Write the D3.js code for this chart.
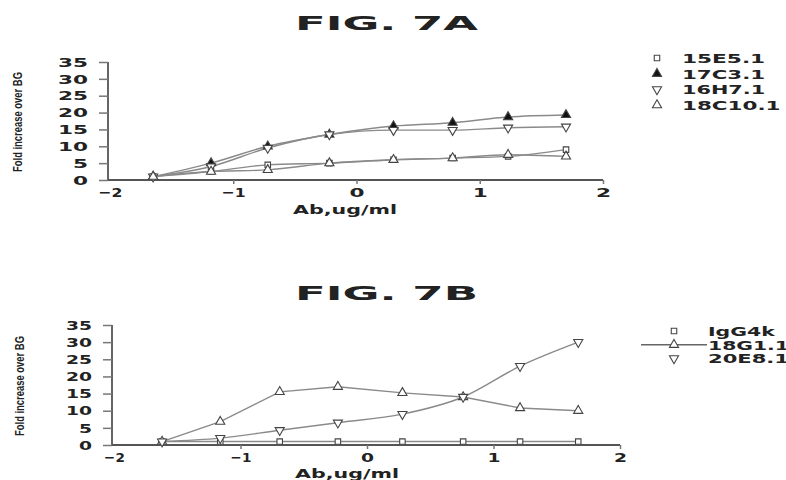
<!DOCTYPE html>
<html>
<head>
<meta charset="utf-8">
<script src="https://cdn.jsdelivr.net/npm/d3@7"></script>
<style>
  html, body { margin: 0; padding: 0; background: #fff; }
  svg { display: block; }
  text { font-family: "DejaVu Sans", "Liberation Sans", sans-serif; fill: #222; }
</style>
</head>
<body>
<svg id="chart" width="786" height="480"></svg>
<script>
// log10 antibody concentration (ug/ml) for the dilution series
const doseA = [-1.65, -1.18, -0.72, -0.22, 0.3, 0.78, 1.23, 1.7];
const doseB = [-1.62, -1.16, -0.69, -0.23, 0.28, 0.76, 1.21, 1.67];

// Fig. 7A series: fold increase over background
const s15E5 = [1, 2.5, 4.5, 5, 6, 6.5, 7, 9];
const s17C3 = [1, 5, 10, 13.5, 16, 17, 18.7, 19.3];
const s16H7 = [1, 4, 9.5, 13.5, 14.8, 14.8, 15.5, 15.8];
const s18C10 = [1, 2.5, 3, 5, 6, 6.5, 7.5, 7];

// Fig. 7B series
const sIgG4k = [1, 1, 1, 1, 1, 1, 1, 1];
const s18G1 = [1, 6.8, 15.5, 17, 15.2, 14, 10.8, 10];
const s20E8 = [1, 2, 4.3, 6.5, 9, 14, 23, 30];

const xTicks = [-2, -1, 0, 1, 2];
const yTicks = [0, 5, 10, 15, 20, 25, 30, 35];

const svg = d3.select("#chart");

const sym = {
  square: d3.symbol().type(d3.symbolSquare).size(30),
  up: d3.symbol().type(d3.symbolTriangle).size(36),
  down: d3.symbol().type(d3.symbolTriangle).size(36)
};

function drawMarker(g, kind, filled, x, y) {
  g.append("path")
    .attr("d", sym[kind]())
    .attr("transform", `translate(${x},${y})` + (kind === "down" ? " rotate(180)" : ""))
    .attr("fill", filled ? "#111" : "#fff")
    .attr("stroke", "#444")
    .attr("stroke-width", 1.1);
}

// wide, extended-looking label: stretch glyphs to a width set per character
function wideWidth(str, w) {
  let total = 0;
  for (const c of str) total += (c === "." ? 0.4 : c === "-" || c === "−" ? 0.6 : c === "I" || c === "l" ? 0.45 : 1) * w;
  return total;
}

function panel(cfg) {
  const g = svg.append("g");
  const x = d3.scaleLinear().domain([-2, 2]).range(cfg.xRange);
  const y = d3.scaleLinear().domain([0, 35]).range(cfg.yRange);

  // title
  svg.append("text")
    .attr("x", cfg.titleX).attr("y", cfg.titleY)
    .style("font-size", "20px").style("font-weight", "bold").attr("fill", "#2a2a2a")
    .attr("textLength", cfg.titleW).attr("lengthAdjust", "spacingAndGlyphs")
    .text(cfg.title);

  // axes
  const yAxis = d3.axisLeft(y).tickValues(yTicks).tickSize(9).tickPadding(11).tickFormat(d3.format("d"));
  const gy = g.append("g").attr("transform", `translate(${cfg.yAxisX},0)`).call(yAxis);
  const xAxis = d3.axisBottom(x).tickValues(xTicks).tickSize(4).tickPadding(4).tickFormat(d3.format("d"));
  const gx = g.append("g").attr("transform", `translate(0,${cfg.yRange[0]})`).call(xAxis);
  gx.select(".domain").attr("d", `M${cfg.yAxisX},0H${cfg.xRange[1]}`);
  gy.select(".domain").attr("d", `M0,${cfg.yRange[0]}V${cfg.yRange[1]}`);
  [gx, gy].forEach(a => {
    a.selectAll(".domain").attr("stroke", "#555").attr("stroke-width", 1.8);
    a.selectAll(".tick line").attr("stroke", "#777").attr("stroke-width", 1.5);
    a.selectAll(".tick text")
      .style("font-size", "13px").style("font-weight", "bold")
      .style("font-family", "'DejaVu Sans', sans-serif").attr("fill", "#444")
      .each(function() {
        const t = d3.select(this).text();
        d3.select(this).attr("textLength", wideWidth(t, cfg.digitW)).attr("lengthAdjust", "spacingAndGlyphs");
      });
  });
  gx.select(".tick:first-of-type line").remove();

  // axis titles
  svg.append("text")
    .attr("x", cfg.xLabelX).attr("y", cfg.xLabelY)
    .attr("text-anchor", "middle")
    .style("font-size", "13px").style("font-weight", "bold").attr("fill", "#333")
    .attr("textLength", 104).attr("lengthAdjust", "spacingAndGlyphs")
    .text("Ab,ug/ml");
  svg.append("text")
    .attr("transform", `translate(${cfg.yLabelX},${cfg.yLabelCY}) rotate(-90)`)
    .attr("text-anchor", "middle")
    .style("font-size", "12px").style("font-weight", "bold").attr("fill", "#3a3a3a")
    .style("font-family", "'Liberation Sans Narrow', 'Liberation Sans', sans-serif")
    .attr("textLength", 100).attr("lengthAdjust", "spacingAndGlyphs")
    .text("Fold increase over BG");

  // series lines and markers
  cfg.series.forEach(s => {
    const pts = s.values.map((v, i) => [x(cfg.dose[i]), y(v)]);
    g.append("path")
      .attr("d", d3.line().curve(s.curve || d3.curveMonotoneX)(pts))
      .attr("fill", "none").attr("stroke", "#8a8a8a").attr("stroke-width", 1.4);
  });
  cfg.series.forEach(s => {
    s.values.forEach((v, i) => drawMarker(g, s.kind, s.filled, x(cfg.dose[i]), y(v)));
  });

  // legend
  cfg.series.forEach((s, i) => {
    const ly = cfg.legendY + i * cfg.legendStep;
    if (s.legendLine) {
      g.append("line")
        .attr("x1", cfg.legendSymX - 33).attr("x2", cfg.legendTextX - 1)
        .attr("y1", ly).attr("y2", ly)
        .attr("stroke", "#666").attr("stroke-width", 1.4);
    }
    drawMarker(g, s.kind, s.filled, cfg.legendSymX, ly);
    svg.append("text")
      .attr("x", cfg.legendTextX).attr("y", ly + 5)
      .style("font-size", "13px").style("font-weight", "bold")
      .attr("fill", "#333")
      .attr("textLength", wideWidth(s.name, cfg.legendCharW)).attr("lengthAdjust", "spacingAndGlyphs")
      .text(s.name);
  });
}

panel({
  title: "FIG. 7A", titleX: 295, titleY: 30, titleW: 183,
  xRange: [110, 603], yRange: [180, 62], yAxisX: 108,
  xLabelX: 345, xLabelY: 214, yLabelX: 22, yLabelCY: 122,
  digitW: 15,
  dose: doseA,
  legendSymX: 657, legendTextX: 682, legendY: 58, legendStep: 15.7, legendCharW: 15.4,
  series: [
    { name: "15E5.1", values: s15E5, kind: "square", filled: false },
    { name: "17C3.1", values: s17C3, kind: "up", filled: true },
    { name: "16H7.1", values: s16H7, kind: "down", filled: false },
    { name: "18C10.1", values: s18C10, kind: "up", filled: false }
  ]
});

panel({
  title: "FIG. 7B", titleX: 295, titleY: 300, titleW: 183,
  xRange: [114, 620], yRange: [445, 325], yAxisX: 112,
  xLabelX: 347, xLabelY: 478, yLabelX: 24, yLabelCY: 386,
  digitW: 13,
  dose: doseB,
  legendSymX: 674, legendTextX: 708, legendY: 331, legendStep: 13.7, legendCharW: 15,
  series: [
    { name: "IgG4k", values: sIgG4k, kind: "square", filled: false },
    { name: "18G1.1", values: s18G1, kind: "up", filled: false, legendLine: true, curve: d3.curveLinear },
    { name: "20E8.1", values: s20E8, kind: "down", filled: false }
  ]
});
</script>
</body>
</html>
